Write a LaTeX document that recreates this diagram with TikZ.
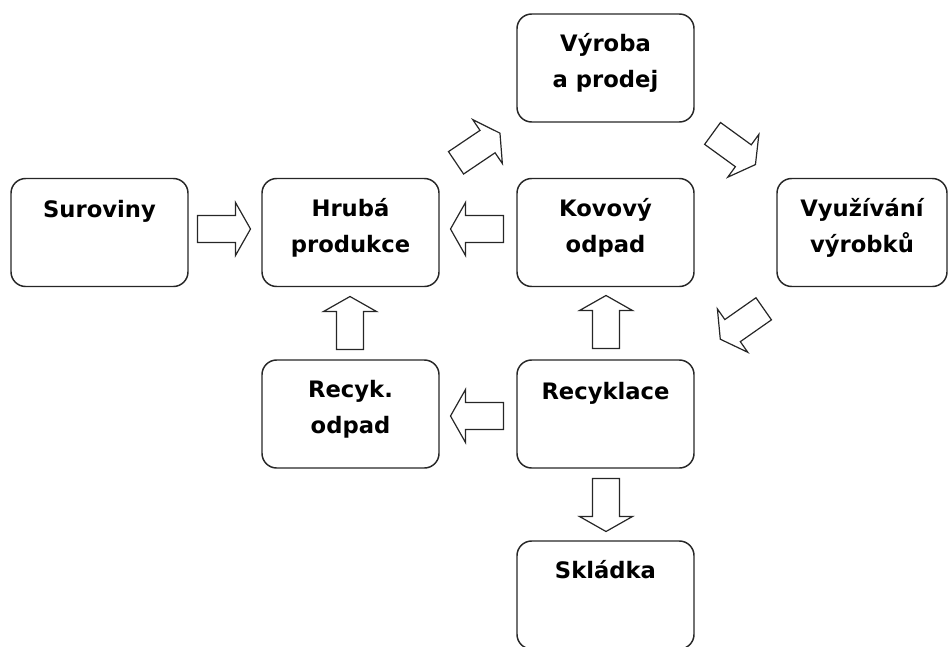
\documentclass[tikz,border=0pt]{standalone}
\usepackage{fontspec}
\setmainfont{DejaVu Sans}
\newcommand\twolines[2]{\vtop{\halign{\hfil##\hfil\cr #1\cr #2\cr}}}
\begin{document}
\begin{tikzpicture}[x=0.75pt,y=-0.75pt,
  box/.style={draw=black!85, line width=1.1pt, rounded corners=11pt,
    minimum width=132.75pt, minimum height=81pt, inner sep=0pt},
  txt/.style={anchor=base, inner sep=0pt, font=\bfseries\fontsize{17}{27}\selectfont},
  barrow/.pic={\draw[line width=0.9pt, draw=black!85, line join=miter]
    (-26.5,-13.5) -- (11.5,-13.5) -- (11.5,-26.5) -- (26.5,0)
    -- (11.5,26.5) -- (11.5,13.5) -- (-26.5,13.5) -- cycle;}]
\useasboundingbox (0,0) rectangle (949,646);
% boxes
\node[box] (sur) at (99.5,232.5) {};
\node[box] (hru) at (350.5,232.5) {};
\node[box] (kov) at (605.5,232.5) {};
\node[box] (vyr) at (605.5,68) {};
\node[box, minimum width=127.5pt] (vyu) at (862,232.5) {};
\node[box] (rod) at (350.5,414) {};
\node[box] (rec) at (605.5,414) {};
\node[box] (skl) at (605.5,595) {};
% texts
\node[txt] (surt) at ([yshift=-30pt]sur.north) {Suroviny};
\node[txt] (hrut) at ([yshift=-29pt]hru.north) {\twolines{Hrubá}{produkce}};
\node[txt] (kovt) at ([yshift=-29pt]kov.north) {\twolines{Kovový}{odpad}};
\node[txt] (vyrt) at ([yshift=-29pt]vyr.north) {\twolines{Výroba}{a prodej}};
\node[txt] (vyut) at ([yshift=-29pt]vyu.north) {\twolines{Využívání}{výrobků}};
\node[txt] (rodt) at ([yshift=-29pt]rod.north) {\twolines{Recyk.}{odpad}};
\node[txt] (rect) at ([yshift=-30pt]rec.north) {Recyklace};
\node[txt] (sklt) at ([yshift=-29pt]skl.north) {Skládka};
% block arrows
\pic at (224,229) {barrow};
\pic[rotate=180] at (477,229) {barrow};
\pic[rotate=90] at (350,323) {barrow};
\pic[rotate=90] at (606,322) {barrow};
\pic[rotate=180] at (477,416) {barrow};
\pic[rotate=-90] at (606,505) {barrow};
\pic[rotate=34] at (478,148) {barrow};
\pic[rotate=-36] at (734,149) {barrow};
\pic[rotate=215] at (742,324) {barrow};
\end{tikzpicture}
\end{document}
